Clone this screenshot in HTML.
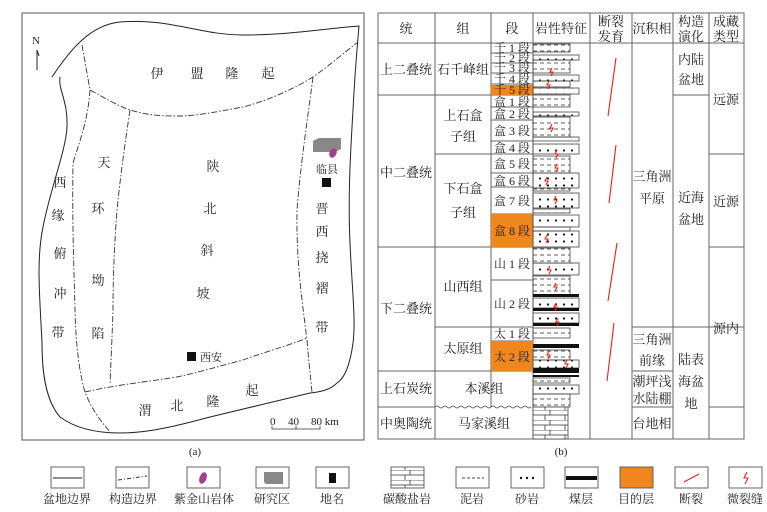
<!DOCTYPE html>
<html><head><meta charset="utf-8"><style>
html,body{margin:0;padding:0;background:#fff}
svg{display:block}
text{font-family:"Liberation Serif","Noto Serif CJK SC","Noto Sans CJK SC",serif;fill:#222}
</style></head><body>
<svg width="767" height="512" viewBox="0 0 767 512" xmlns="http://www.w3.org/2000/svg">
<defs>
<pattern id="mud" width="7" height="6" patternUnits="userSpaceOnUse"><line x1="1" y1="3" x2="5" y2="3" stroke="#333" stroke-width="0.8"/></pattern>
<pattern id="sand" width="8" height="7" patternUnits="userSpaceOnUse"><circle cx="4" cy="3.5" r="1.1" fill="#111"/></pattern>
<pattern id="lime" width="20" height="10" patternUnits="userSpaceOnUse"><rect width="20" height="10" fill="#fff"/><path d="M0 0H20M0 5H20M10 0V5M5 5V10" stroke="#333" stroke-width="0.8" fill="none"/></pattern>
</defs>
<!-- Map (a) -->
<rect x="22" y="13" width="342" height="427" fill="none" stroke="#555" stroke-width="1"/>
<path d="M52 77 C70 50,90 25,120 22 C170 18,200 35,243 35 C290 35,330 28,359 26 C356 60,354 90,353 110 C350 160,348 200,350 243 C352 290,356 320,353 343 C350 365,345 378,337 383 C330 390,320 392,310 393 C280 400,240 410,210 417 C180 425,150 433,120 433 C95 433,75 428,60 417 C45 400,42 370,42 343 C40 300,36 260,43 227 C50 190,66 150,67 127 C68 100,58 90,60 77" fill="none" stroke="#222" stroke-width="1"/>
<g fill="none" stroke="#333" stroke-width="0.9" stroke-dasharray="6,2,1.5,2">
<path d="M82 45 L90 90 C105 98,118 106,130 110 C150 116,165 116,177 116 C200 116,225 110,243 107 C270 100,295 88,313 77 C330 65,345 52,358 42"/>
<path d="M90 90 C88 120,80 140,73 163 C72 220,74 270,75 310 C76 350,80 375,85 392 C92 410,100 420,110 432"/>
<path d="M130 110 C124 150,120 180,117 210 C114 250,113 280,113 310 C112 340,111 360,110 385"/>
<path d="M313 77 C306 130,300 170,297 210 C296 260,302 300,307 340 C309 365,311 380,312 393"/>
<path d="M85 392 C115 385,145 382,177 377 C200 372,220 366,243 360 C265 352,290 345,307 338"/>
</g>
<text x="36" y="44" font-size="11" text-anchor="middle">N</text>
<line x1="37" y1="50" x2="37" y2="70" stroke="#222" stroke-width="1"/>
<line x1="37" y1="50" x2="39" y2="56" stroke="#222" stroke-width="1"/>
<g font-size="13" text-anchor="middle">
<text x="157" y="78">伊</text><text x="197" y="78">盟</text><text x="232" y="78">隆</text><text x="268" y="78">起</text>
<text x="104" y="167">天</text><text x="98" y="213">环</text><text x="98" y="285">坳</text><text x="98" y="338">陷</text>
<text x="60" y="187">西</text><text x="58" y="220">缘</text><text x="60" y="258">俯</text><text x="60" y="298">冲</text><text x="58" y="337">带</text>
<text x="213" y="171">陕</text><text x="210" y="213">北</text><text x="207" y="255">斜</text><text x="203" y="298">坡</text>
<text x="322" y="213">晋</text><text x="322" y="236">西</text><text x="322" y="262">挠</text><text x="322" y="293">褶</text><text x="322" y="332">带</text>
<text x="145" y="415">渭</text><text x="177" y="410">北</text><text x="213" y="406">隆</text><text x="252" y="395">起</text>
</g>
<path d="M313 141 L319 138 L341 138 L341 149 L335 152 L313 152 Z" fill="#888"/>
<ellipse cx="333" cy="153" rx="3.5" ry="5" fill="#a0408e" transform="rotate(25 333 153)"/>
<text x="327" y="173" font-size="11" text-anchor="middle">临县</text>
<rect x="322" y="178" width="9" height="9" fill="#111"/>
<rect x="187" y="352" width="9" height="9" fill="#111"/>
<text x="200" y="361" font-size="11">西安</text>
<text x="270" y="425" font-size="11">0</text><text x="288" y="425" font-size="11">40</text><text x="311" y="425" font-size="11">80 km</text>
<path d="M272 426 V429 H320 V426 M296 429 V426" stroke="#333" fill="none" stroke-width="0.8"/>
<text x="195" y="455" font-size="11" text-anchor="middle">(a)</text>
<text x="561" y="455" font-size="11" text-anchor="middle">(b)</text>

<!-- Table (b) -->
<g stroke="#666" stroke-width="1" fill="none">
<rect x="378" y="13" width="366" height="426"/>
<path d="M435 13V439M491 13V407M533 13V439M590 13V439M632 13V439M673 13V439M709 13V439"/>
<path d="M378 43H744M378 95H491M378 247H533M378 371H533M378 407H435M435 154H533M435 327H533"/>
<path d="M491 95H533M491 107H533M491 120H533M491 141H533M491 154H533M491 173H533M491 187H533M491 214H533M491 280H533M491 341H533"/>
<path d="M491 53H533M491 63H533M491 73H533M491 84H533"/>
<path d="M632 327H744M632 371H673M632 407H673M673 95H709M709 154H744M709 247H744M709 407H744"/>
</g>
<path d="M435 407 q2 -2 4 0 t4 0 t4 0 t4 0 t4 0 t4 0 t4 0 t4 0 t4 0 t4 0 t4 0 t4 0 t4 0 t4 0 t4 0 t4 0 t4 0 t4 0 t4 0 t4 0 t4 0 t4 0 t4 0 t4 0" stroke="#444" fill="none" stroke-width="0.8"/>
<rect x="491" y="85" width="42" height="10" fill="#f0861e"/>
<rect x="491" y="214" width="42" height="33" fill="#f0861e"/>
<rect x="491" y="341" width="42" height="30" fill="#f0861e"/>
<g font-size="13" text-anchor="middle">
<text x="406" y="33">统</text><text x="463" y="33">组</text><text x="512" y="33">段</text><text x="561" y="33">岩性特征</text>
<text x="611" y="26">断裂</text><text x="611" y="41">发育</text><text x="652" y="33">沉积相</text>
<text x="691" y="26">构造</text><text x="691" y="41">演化</text><text x="726" y="26">成藏</text><text x="726" y="41">类型</text>
<text x="406" y="74">上二叠统</text><text x="463" y="74">石千峰组</text>
<text x="463" y="120">上石盒</text><text x="463" y="141">子组</text>
<text x="463" y="193">下石盒</text><text x="463" y="217">子组</text>
<text x="406" y="177">中二叠统</text><text x="406" y="313">下二叠统</text>
<text x="463" y="291">山西组</text><text x="463" y="353">太原组</text>
<text x="406" y="393">上石炭统</text><text x="484" y="393">本溪组</text>
<text x="406" y="428">中奥陶统</text><text x="484" y="428">马家溪组</text>
<text x="652" y="181">三角洲</text><text x="652" y="203">平原</text>
<text x="652" y="344">三角洲</text><text x="652" y="365">前缘</text>
<text x="652" y="386">潮坪浅</text><text x="652" y="403">水陆棚</text>
<text x="652" y="428">台地相</text>
<text x="691" y="64">内陆</text><text x="691" y="84">盆地</text>
<text x="691" y="202">近海</text><text x="691" y="224">盆地</text>
<text x="691" y="364">陆表</text><text x="691" y="386">海盆</text><text x="691" y="408">地</text>
<text x="726" y="104">远源</text><text x="726" y="206">近源</text><text x="726" y="333">源内</text>
</g>
<g font-size="12" text-anchor="middle">
<text x="512" y="52">千 1 段</text><text x="512" y="62">千 2 段</text><text x="512" y="72">千 3 段</text><text x="512" y="83">千 4 段</text><text x="512" y="94">千 5 段</text>
<text x="512" y="106">盒 1 段</text><text x="512" y="118">盒 2 段</text><text x="512" y="135">盒 3 段</text><text x="512" y="152">盒 4 段</text>
<text x="512" y="168">盒 5 段</text><text x="512" y="185">盒 6 段</text><text x="512" y="205">盒 7 段</text><text x="512" y="235">盒 8 段</text>
<text x="512" y="268">山 1 段</text><text x="512" y="308">山 2 段</text><text x="512" y="338">太 1 段</text><text x="512" y="361">太 2 段</text>
</g>
<!-- lithology -->
<g stroke="#444" stroke-width="0.8">
<rect x="533" y="44" width="37" height="8" fill="url(#mud)"/>
<rect x="533" y="55" width="46" height="5" fill="url(#sand)"/>
<rect x="533" y="60" width="37" height="13" fill="url(#mud)"/>
<rect x="533" y="75" width="46" height="6" fill="url(#sand)"/>
<rect x="533" y="81" width="37" height="6" fill="url(#mud)"/>
<rect x="533" y="88" width="46" height="6" fill="url(#sand)"/>
<rect x="533" y="95" width="37" height="12" fill="url(#mud)"/>
<rect x="533" y="112" width="46" height="4" fill="url(#sand)"/>
<rect x="533" y="117" width="37" height="20" fill="url(#mud)"/>
<rect x="533" y="137" width="46" height="4" fill="url(#sand)"/>
<rect x="533" y="144" width="46" height="10" fill="url(#sand)"/>
<rect x="533" y="156" width="37" height="17" fill="url(#mud)"/>
<rect x="533" y="173" width="46" height="15" fill="url(#sand)"/>
<rect x="533" y="188" width="37" height="3" fill="url(#mud)"/>
<rect x="533" y="193" width="46" height="15" fill="url(#sand)"/>
<rect x="533" y="209" width="37" height="4" fill="url(#mud)"/>
<rect x="533" y="215" width="46" height="12" fill="url(#sand)"/>
<rect x="533" y="227" width="37" height="4" fill="url(#mud)"/>
<rect x="533" y="231" width="46" height="16" fill="url(#sand)"/>
<rect x="533" y="248" width="37" height="15" fill="url(#mud)"/>
<rect x="533" y="263" width="46" height="12" fill="url(#sand)"/>
<rect x="533" y="276" width="37" height="20" fill="url(#mud)"/>
<rect x="533" y="298" width="46" height="10" fill="url(#sand)"/>
<rect x="533" y="313" width="46" height="10" fill="url(#sand)"/>
<rect x="533" y="328" width="37" height="10" fill="url(#mud)"/>
<rect x="533" y="350" width="37" height="10" fill="url(#mud)"/>
<rect x="533" y="360" width="46" height="8" fill="url(#sand)"/>
<rect x="533" y="378" width="37" height="5" fill="url(#mud)"/>
<rect x="533" y="385" width="46" height="9" fill="url(#sand)"/>
<rect x="533" y="394" width="37" height="13" fill="url(#mud)"/>
<rect x="533" y="407" width="35" height="32" fill="url(#lime)"/>
</g>
<g fill="#111">
<rect x="533" y="294" width="46" height="3"/><rect x="533" y="308" width="46" height="3"/><rect x="533" y="323" width="46" height="3"/>
<rect x="533" y="344" width="46" height="4"/><rect x="533" y="368" width="46" height="5"/><rect x="533" y="375" width="46" height="2"/>
</g>
<g stroke="#e21" stroke-width="1.1" fill="none">
<path d="M552 68l-2 4h3l-2 4"/><path d="M549 81l-2 4h3l-2 4"/><path d="M552 124l-2 4h3l-2 4"/><path d="M557 150l-2 4h3l-2 4"/>
<path d="M557 164l-2 4h3l-2 4"/><path d="M547 177l-2 4h3l-2 4"/><path d="M556 196l-2 4h3l-2 4"/><path d="M547 235l-2 4h3l-2 4"/>
<path d="M550 266l-2 4h3l-2 4"/><path d="M556 283l-2 4h3l-2 4"/><path d="M556 303l-2 4h3l-2 4"/><path d="M558 318l-2 4h3l-2 4"/>
<path d="M549 351l-2 4h3l-2 4"/><path d="M567 360l-2 4h3l-2 4"/>
<line x1="616" y1="58" x2="608" y2="116"/><line x1="616" y1="145" x2="609" y2="203"/>
<line x1="617" y1="243" x2="608" y2="301"/><line x1="614" y1="323" x2="607" y2="381"/>
</g>

<!-- Legend -->
<g stroke="#555" stroke-width="0.9" fill="#fff">
<rect x="51" y="467" width="33" height="21"/><rect x="116" y="467" width="33" height="21"/><rect x="187" y="467" width="33" height="21"/>
<rect x="256" y="467" width="33" height="21"/><rect x="316" y="467" width="33" height="21"/><rect x="391" y="467" width="33" height="21" fill="url(#lime)"/>
<rect x="456" y="467" width="33" height="21"/><rect x="511" y="467" width="33" height="21"/><rect x="565" y="467" width="33" height="21"/>
<rect x="620" y="467" width="33" height="21" fill="#f0861e"/><rect x="675" y="467" width="33" height="21"/><rect x="729" y="467" width="33" height="21"/>
</g>
<line x1="53" y1="478" x2="82" y2="478" stroke="#222"/>
<line x1="118" y1="480" x2="147" y2="476" stroke="#333" stroke-dasharray="4,2,1,2"/>
<ellipse cx="203" cy="478" rx="3.5" ry="6" fill="#a0408e" transform="rotate(20 203 478)"/>
<path d="M264 472H283V484H266L264 482Z" fill="#888"/>
<rect x="329" y="473" width="7" height="10" fill="#111"/>
<line x1="462" y1="478" x2="484" y2="478" stroke="#444" stroke-dasharray="3,2"/>
<circle cx="521" cy="478" r="1.2" fill="#111"/><circle cx="527" cy="478" r="1.2" fill="#111"/><circle cx="533" cy="478" r="1.2" fill="#111"/>
<rect x="566" y="476" width="31" height="4" fill="#111"/>
<line x1="684" y1="482" x2="699" y2="474" stroke="#e21" stroke-width="1.2"/>
<path d="M747 472l-3 6h4l-3 6" stroke="#e21" stroke-width="1.1" fill="none"/>
<g font-size="12" text-anchor="middle">
<text x="67" y="503">盆地边界</text><text x="133" y="503">构造边界</text><text x="204" y="503">紫金山岩体</text>
<text x="272" y="503">研究区</text><text x="332" y="503">地名</text><text x="407" y="503">碳酸盐岩</text>
<text x="472" y="503">泥岩</text><text x="527" y="503">砂岩</text><text x="581" y="503">煤层</text>
<text x="636" y="503">目的层</text><text x="691" y="503">断裂</text><text x="745" y="503">微裂缝</text>
</g>
</svg>
</body></html>
